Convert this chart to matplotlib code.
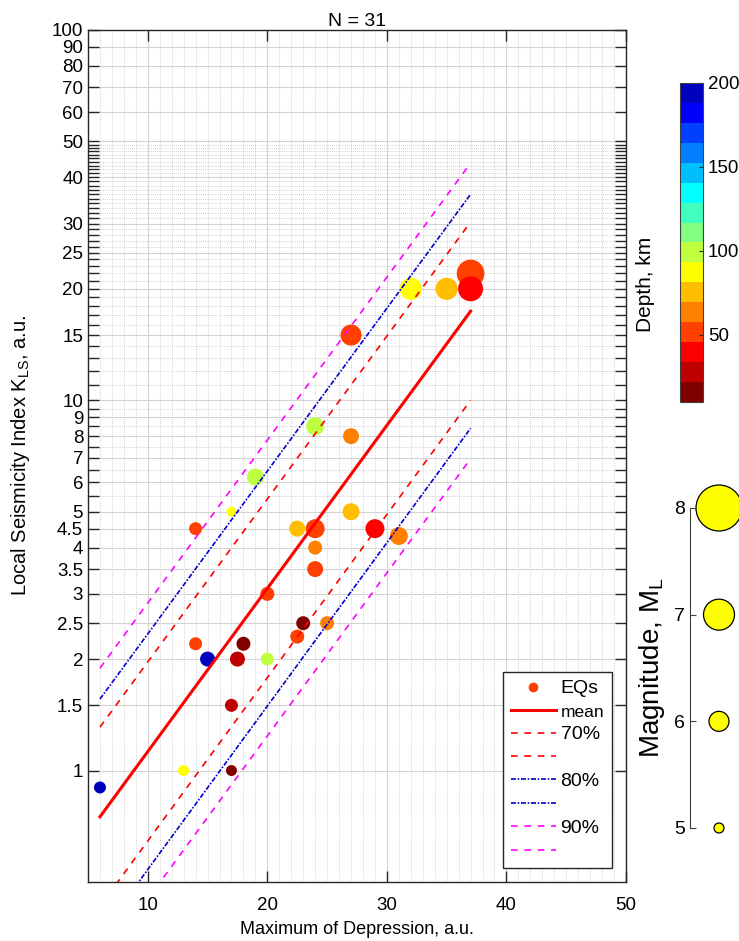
import numpy as np
import matplotlib
matplotlib.use("Agg")
import matplotlib.pyplot as plt
from matplotlib.colors import ListedColormap, Normalize
from matplotlib.ticker import FixedLocator, NullFormatter, MultipleLocator
from matplotlib.lines import Line2D

plt.rcParams['font.family'] = ['Liberation Sans', 'DejaVu Sans']
plt.rcParams['mathtext.fontset'] = 'custom'
plt.rcParams['mathtext.rm'] = 'Liberation Sans'
plt.rcParams['mathtext.default'] = 'regular'

# === DATA ===
DEPRESSION = [6, 13, 17, 17, 15, 17.5, 18, 14, 20, 20, 22.5, 23, 25, 24, 24,
              24, 22.5, 14, 17, 19, 24, 27, 27, 29, 31, 27, 32, 35, 37, 37]
KLS = [0.9, 1, 1, 1.5, 2, 2, 2.2, 2.2, 2, 3, 2.3, 2.5, 2.5, 3.5, 4,
       4.5, 4.5, 4.5, 5, 6.2, 8.5, 8, 5, 4.5, 4.3, 15, 20, 20, 22, 20]
DEPTH = [190, 85, 10, 25, 190, 25, 12, 50, 95, 50, 50, 12, 60, 50, 60,
         50, 75, 50, 85, 95, 95, 60, 75, 40, 60, 50, 85, 75, 50, 40]
MAG = [5.2, 5.1, 5.1, 5.3, 5.5, 5.5, 5.4, 5.3, 5.3, 5.4, 5.4, 5.4, 5.4, 5.6, 5.4,
       5.9, 5.6, 5.3, 5.0, 5.7, 5.8, 5.6, 5.7, 5.9, 5.8, 6.1, 6.2, 6.2, 6.7, 6.45]

LINE_X = [6, 37]
MEAN_Y = [0.75, 17.4]
UP70_Y = [1.31, 30.3]
LO70_Y = [0.43, 10.0]
UP80_Y = [1.56, 36.0]
LO80_Y = [0.36, 8.4]
UP90_Y = [1.89, 43.7]
LO90_Y = [0.30, 6.95]

X_TICKS = [10, 20, 30, 40, 50]
Y_TICKS = [1, 1.5, 2, 2.5, 3, 3.5, 4, 4.5, 5, 6, 7, 8, 9, 10, 15, 20, 25,
           30, 40, 50, 60, 70, 80, 90, 100]
Y_LABELS = ['1', '1.5', '2', '2.5', '3', '3.5', '4', '4.5', '5', '6', '7', '8',
            '9', '10', '15', '20', '25', '30', '40', '50', '60', '70', '80',
            '90', '100']
Y_MINOR = ([5.5, 6.5, 7.5, 8.5, 9.5] + list(range(11, 20)) +
           [v for v in range(21, 50) if v not in (25, 30, 40)])

DEPTH_TICKS = [50, 100, 150, 200]
MAG_LEGEND = [5, 6, 7, 8]

# === STYLE ===
MAG_PX = [10, 20, 31, 46]   # marker diameter in pixels for MAG_LEGEND
JET16 = [[0, 0, 0.75], [0, 0, 1], [0, 0.25, 1], [0, 0.5, 1], [0, 0.75, 1],
         [0, 1, 1], [0.25, 1, 0.75], [0.5, 1, 0.5], [0.75, 1, 0.25], [1, 1, 0],
         [1, 0.75, 0], [1, 0.5, 0], [1, 0.25, 0], [1, 0, 0], [0.75, 0, 0],
         [0.5, 0, 0]]
cmap = ListedColormap(JET16[::-1])
norm = Normalize(vmin=10, vmax=200)
W, H = 739, 941
DASH = (0, (4, 4))
DASHDOT = (0, (3, 1, 1, 1))


def size_of(m):
    return (np.interp(m, MAG_LEGEND, MAG_PX) * 0.72) ** 2


# === MAIN AXES ===
fig = plt.figure(figsize=(W / 100, H / 100), dpi=100)
ax = fig.add_axes([88 / W, 1 - 882 / H, 538 / W, 852 / H])
ax.set_yscale('log')
ax.set_xlim(5, 50)
ax.set_ylim(0.5, 100)

ax.scatter(DEPRESSION, KLS, s=size_of(np.array(MAG)), c=DEPTH, cmap=cmap,
           norm=norm, edgecolors='none', zorder=2)

ax.plot(LINE_X, MEAN_Y, color='red', lw=2.2, zorder=3)
ax.plot(LINE_X, UP70_Y, color='red', lw=1.2, ls=DASH, zorder=3)
ax.plot(LINE_X, LO70_Y, color='red', lw=1.2, ls=DASH, zorder=3)
ax.plot(LINE_X, UP80_Y, color='#0000d0', lw=1.2, ls=DASHDOT, zorder=3)
ax.plot(LINE_X, LO80_Y, color='#0000d0', lw=1.2, ls=DASHDOT, zorder=3)
ax.plot(LINE_X, UP90_Y, color='#ff00ff', lw=1.2, ls=DASH, zorder=3)
ax.plot(LINE_X, LO90_Y, color='#ff00ff', lw=1.2, ls=DASH, zorder=3)

ax.set_xticks(X_TICKS)
ax.xaxis.set_minor_locator(MultipleLocator(1))
ax.yaxis.set_major_locator(FixedLocator(Y_TICKS))
ax.set_yticklabels(Y_LABELS)
ax.yaxis.set_minor_locator(FixedLocator(Y_MINOR))
ax.yaxis.set_minor_formatter(NullFormatter())
ax.tick_params(which='both', direction='in', top=True, right=True,
               length=8, width=1, color='#262626', labelsize=13.5)
ax.tick_params(axis='x', which='minor', length=0)
ax.tick_params(axis='x', which='major', pad=11)
ax.grid(which='major', color='#d4d4d4', lw=0.8, ls='-')
ax.grid(which='minor', color='#c4c4c4', lw=0.6, ls=(0, (1, 1.5)))
ax.set_axisbelow(True)
for sp in ax.spines.values():
    sp.set_color('#262626')
    sp.set_linewidth(1.0)

ax.set_title('N = 31', fontsize=14, pad=3)
ax.set_xlabel('Maximum of Depression, a.u.', fontsize=13, labelpad=5)
ax.set_ylabel('Local Seismicity Index K$_{LS}$, a.u.', fontsize=14.5)
ax.yaxis.set_label_coords(-0.104, 0.5)

handles = [
    Line2D([], [], marker='o', ls='none', color='#ff4000', markersize=6),
    Line2D([], [], color='red', lw=2.2),
    Line2D([], [], color='red', lw=1.2, ls=DASH),
    Line2D([], [], color='red', lw=1.2, ls=DASH),
    Line2D([], [], color='#0000d0', lw=1.2, ls=DASHDOT),
    Line2D([], [], color='#0000d0', lw=1.2, ls=DASHDOT),
    Line2D([], [], color='#ff00ff', lw=1.2, ls=DASH),
    Line2D([], [], color='#ff00ff', lw=1.2, ls=DASH),
]
labels = ['EQs', 'mean', '70%', ' ', '80%', ' ', '90%', ' ']
leg = ax.legend(handles, labels, loc='lower right', bbox_to_anchor=(0.974, 0.016),
                fontsize=14, fancybox=False, framealpha=1, edgecolor='#262626',
                handlelength=2.3, handletextpad=0.25, labelspacing=0.3,
                borderpad=0.4, borderaxespad=0)
leg.get_frame().set_linewidth(1.0)
leg.get_texts()[1].set_fontsize(12.5)

# === DEPTH COLORBAR ===
cax = fig.add_axes([680 / W, 1 - 402 / H, 23 / W, 319 / H])
cb = fig.colorbar(plt.cm.ScalarMappable(norm=norm, cmap=cmap), cax=cax)
cb.set_ticks(DEPTH_TICKS)
cb.ax.tick_params(labelsize=13.5, direction='in', length=3, color='#262626')
cb.outline.set_edgecolor('#404040')
cb.outline.set_linewidth(0.8)
cb.set_label('Depth, km', fontsize=15)
cb.ax.yaxis.set_label_position('left')
cb.ax.yaxis.set_label_coords(-1.1, 0.37)

# === MAGNITUDE LEGEND ===
max_ = fig.add_axes([690 / W, 1 - 828 / H, 80 / W, 320 / H])
max_.set_xlim(0, 80)
max_.set_ylim(5, 8)
max_.scatter([29] * 4, MAG_LEGEND, s=size_of(np.array(MAG_LEGEND)),
             color='yellow', edgecolors='black', linewidths=0.9, clip_on=False)
for k in ('top', 'right', 'bottom'):
    max_.spines[k].set_visible(False)
max_.spines['left'].set_color('#404040')
max_.spines['left'].set_linewidth(0.8)
max_.patch.set_alpha(0)
max_.set_xticks([])
max_.set_yticks(MAG_LEGEND)
max_.tick_params(axis='y', direction='in', length=4, color='#404040', labelsize=14)
max_.set_ylabel('Magnitude, M$_L$', fontsize=20, labelpad=5)

fig.savefig('out.png', dpi=100)
